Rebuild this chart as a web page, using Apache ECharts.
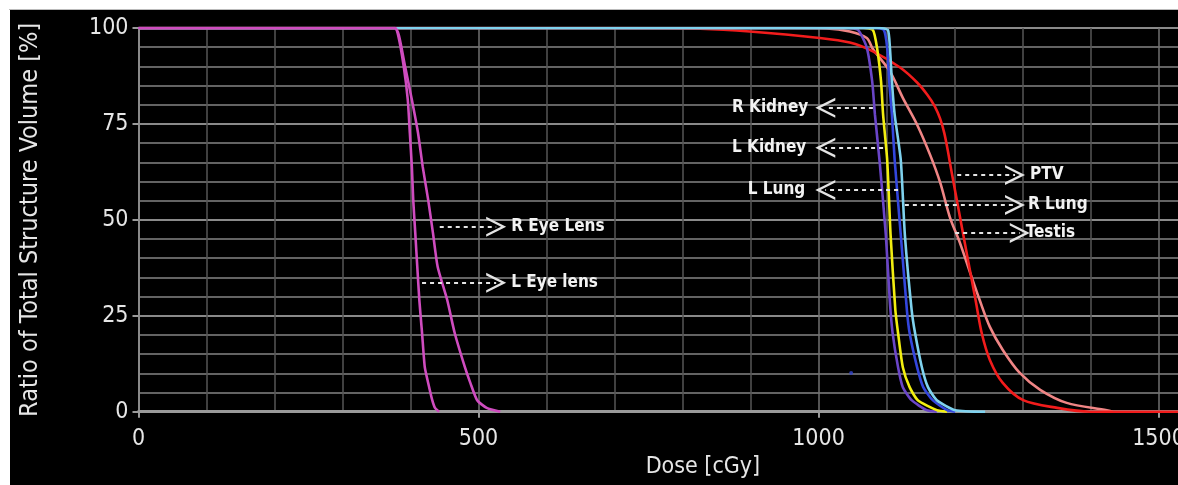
<!DOCTYPE html>
<html><head><meta charset="utf-8">
<script src="https://cdn.jsdelivr.net/npm/echarts@6/dist/echarts.min.js"></script>
<style>
html,body{margin:0;padding:0;background:#fff;width:1178px;height:485px;overflow:hidden}
#c{position:absolute;left:10px;top:10px;width:1168px;height:475px;background:#000}
#edge{position:absolute;left:9px;top:9px;width:1169px;height:1px;background:#bbb}
</style></head><body><div id="edge"></div><div id="c"></div>
<script>
// ---- data (dose cGy, volume %) ----
const xTickLabels = [0, 500, 1000, 1500];
const yTickLabels = [0, 25, 50, 75, 100];

const rKidney = [[0,100],[1040,100],[1058,99.5],[1071,94.9],[1079,86],[1083,77.4],[1090,65],[1099,46.1],[1105,28.5],[1109,20.5],[1117,11.6],[1124,6.4],[1137,3],[1159,0.4],[1174,0]];
const lKidney = [[0,100],[1066,100],[1080,99.5],[1086,94.9],[1092,86],[1095,77.4],[1101,65.6],[1106,46.1],[1113,26.5],[1117,20.5],[1124,11.6],[1134,6.4],[1146,3],[1174,0.4],[1189,0]];
const lLung = [[0,100],[1085,100],[1096,99.5],[1101,94.9],[1104,86],[1108,77.4],[1112,65.6],[1121,46.1],[1130,26.5],[1134,20.5],[1145,11.6],[1154,6.4],[1168,3],[1189,0.4],[1201,0]];
const rLung = [[0,100],[1090,100],[1102,99.5],[1105,94.9],[1108,86],[1112,77.4],[1121,65.6],[1127,46.1],[1137,26.5],[1142,20.5],[1152,11.6],[1161,6.4],[1174,3],[1201,0.4],[1245,0]];
const ptv = [[0,100],[700,100],[826,99.8],[899,99.1],[1002,97.4],[1046,96.2],[1080,93.9],[1120,89.7],[1145,85.8],[1160,82.6],[1171,79.6],[1179,76.3],[1185,72.6],[1190,68.2],[1195,63.2],[1208,50.8],[1217,42.2],[1231,29.1],[1240,20.5],[1252,13.5],[1271,7.5],[1301,3],[1351,1],[1399,0],[1660,0]];
const testis = [[0,100],[960,100],[1012,99.9],[1046,99.1],[1071,97.4],[1080,94.5],[1105,88.7],[1124,81.8],[1145,74.8],[1164,67],[1179,59.7],[1193,50.8],[1208,44],[1223,36.2],[1237,29.1],[1252,22.1],[1271,16.1],[1296,10.1],[1326,5.7],[1365,2.3],[1424,0.4],[1433,0]];
const rEyeLens = [[0,100],[377,100],[383,98],[392,90],[402,81.3],[411,72.7],[418,63.8],[426,55.2],[433,46.6],[440,37.7],[454,29.1],[465,20.5],[480,11.6],[488,7.5],[498,3],[512,1],[532,0]];
const lEyeLens = [[0,100],[377,100],[382,98],[390,90],[396,81.3],[399,72.7],[402,63.8],[404,55.2],[407,46.6],[410,37.7],[413,29.1],[417,20.5],[421,11.6],[426,7.5],[432,3],[436,1],[442,0]];
const strayDot = [[1048,10.1]];

// annotation arrows: [label, fromDose, toDose, volume, labelDistance]
const annotations = [
  ['R Eye Lens', 443, 526, 48.2, 15],
  ['L Eye lens', 417, 526, 33.6, 15],
  ['R Kidney', 1080, 1010, 79.2, 17],
  ['L Kidney', 1095, 1010, 68.8, 19],
  ['L Lung', 1117, 1010, 57.8, 20],
  ['PTV', 1204, 1289, 61.7, 15],
  ['R Lung', 1127, 1289, 53.9, 13],
  ['Testis', 1201, 1296, 46.6, 6]
];

const FONT = "'DejaVu Sans Condensed','Liberation Sans Narrow','Arial Narrow',sans-serif";
const chevron = 'path://M0,100 L50,0 L100,100 L87,100 L50,26 L13,100 Z';

function curve(name, data, color, smooth) {
  return {name, type:'line', data, smooth:smooth||0.2, showSymbol:false, symbol:'none',
    lineStyle:{color, width:2.6}, itemStyle:{color}, animation:false, silent:true};
}

const chart = echarts.init(document.getElementById('c'), null, {renderer:'canvas'});
chart.setOption({
  backgroundColor:'#000',
  animation:false,
  grid:{left:128.5, top:18, height:383.7, width:1660*0.68, outerBoundsMode:'none', containLabel:false},
  xAxis:{type:'value', min:0, max:1660, interval:500,
    name:'Dose [cGy]', nameLocation:'middle', nameGap:41,
    nameTextStyle:{color:'#e6e6e6', fontSize:23, fontFamily:FONT},
    axisLine:{show:true, onZero:false, lineStyle:{color:'#9a9a9a', width:3}},
    axisTick:{show:true, length:6, lineStyle:{color:'#9a9a9a', width:2}},
    axisLabel:{color:'#e6e6e6', fontSize:23, fontFamily:FONT, margin:16, showMaxLabel:false,
      formatter:v => xTickLabels.includes(v) ? String(v) : ''},
    splitLine:{show:true, lineStyle:{color:'#707070', width:1.5}},
    minorTick:{show:false, splitNumber:5},
    minorSplitLine:{show:true, lineStyle:{color:'#555', width:1.5}}
  },
  yAxis:{type:'value', min:0, max:100, interval:25,
    name:'Ratio of Total Structure Volume [%]', nameLocation:'middle', nameGap:96, nameRotate:90,
    nameTextStyle:{color:'#e6e6e6', fontSize:25, fontFamily:FONT},
    axisLine:{show:true, lineStyle:{color:'#8a8a8a', width:2}},
    axisTick:{show:true, length:6, lineStyle:{color:'#9a9a9a', width:2}},
    axisLabel:{color:'#e6e6e6', fontSize:23, fontFamily:FONT, margin:10,
      formatter:v => yTickLabels.includes(v) ? String(v) : ''},
    splitLine:{show:true, lineStyle:{color:'#8a8a8a', width:2}},
    minorTick:{show:false, splitNumber:5},
    minorSplitLine:{show:true, lineStyle:{color:'#636363', width:1.8}}
  },
  series:[
    curve('Testis', testis, '#f08585', 0.3),
    curve('PTV', ptv, '#f21c1c', 0.3),
    curve('R Kidney', rKidney, '#6a45c8'),
    curve('L Kidney', lKidney, '#f2ee10'),
    curve('L Lung', lLung, '#3346dd'),
    curve('R Lung', rLung, '#7fd2ee'),
    curve('R Eye Lens', rEyeLens, '#cf4cbf'),
    curve('L Eye lens', lEyeLens, '#cf4cbf'),
    {type:'scatter', data:strayDot, symbolSize:4, itemStyle:{color:'#3344cc'}, silent:true, animation:false},
    {name:'annotations', type:'line', data:[], silent:true, animation:false,
      markLine:{silent:true, animation:false, symbol:['none', chevron], symbolSize:20, precision:3,
        lineStyle:{color:'#e4e4e4', width:2, type:[4,4]},
        label:{show:true, position:'end', formatter:'{b}', color:'#f2f2f2', fontSize:17, fontWeight:'bold', fontFamily:FONT},
        emphasis:{disabled:true},
        data: annotations.map(a => [
          {name:a[0], coord:[a[1], a[3]], label:{distance:a[4]}},
          {coord:[a[2], a[3]]}
        ])
      }
    }
  ]
});
</script></body></html>
